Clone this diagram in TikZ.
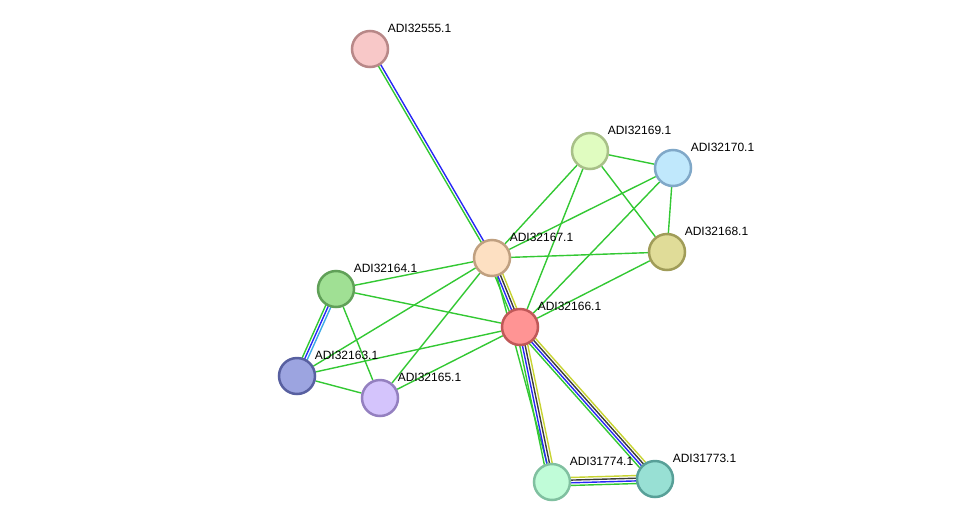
\documentclass[tikz,border=0pt]{standalone}
\usepackage{fontspec}
\setmainfont{Liberation Sans}
\usetikzlibrary{calc, backgrounds}
\definecolor{evgreen}{RGB}{51, 200, 51}
\definecolor{evblue}{RGB}{40, 40, 245}
\definecolor{evblack}{RGB}{60, 60, 60}
\definecolor{evyellow}{RGB}{200, 212, 50}
\definecolor{evcyan}{RGB}{60, 170, 230}

% one parallel strand of an evidence edge: from, to, offset, colour
\newcommand{\strand}[4]{%
  \draw[ev, #4] ($(#1)!#3!90:(#2)$) -- ($(#2)!#3!-90:(#1)$);}
% four-strand edge (green, blue, black, yellow)
\newcommand{\fullev}[2]{%
  \strand{#1}{#2}{-4pt}{evgreen}
  \strand{#1}{#2}{-1.35pt}{evblue}
  \strand{#1}{#2}{1.35pt}{evblack}
  \strand{#1}{#2}{4pt}{evyellow}}

\begin{document}
\begin{tikzpicture}[x=1pt, y=-1pt,
  every node/.style={font=\fontsize{12}{14}\selectfont},
  prot/.style={circle, minimum size=36pt, line width=2.5pt, inner sep=0pt},
  lbl/.style={anchor=base west, inner sep=0pt, text=black, xshift=4pt, yshift=3pt},
  ev/.style={line width=1.4pt}]
  \useasboundingbox (0,0) rectangle (975,528);

  % Proteins
  \node[prot, fill={rgb,255:red,248;green,200;blue,200}, draw={rgb,255:red,184;green,136;blue,136},
        label={[lbl]45:ADI32555.1}] (p32555) at (370,49) {};
  \node[prot, fill={rgb,255:red,224;green,252;blue,192}, draw={rgb,255:red,168;green,192;blue,136},
        label={[lbl]45:ADI32169.1}] (p32169) at (590,151) {};
  \node[prot, fill={rgb,255:red,192;green,232;blue,252}, draw={rgb,255:red,128;green,168;blue,200},
        label={[lbl]45:ADI32170.1}] (p32170) at (673,168) {};
  \node[prot, fill={rgb,255:red,224;green,220;blue,152}, draw={rgb,255:red,160;green,156;blue,88},
        label={[lbl]45:ADI32168.1}] (p32168) at (667,252) {};
  \node[prot, fill={rgb,255:red,253;green,224;blue,194}, draw={rgb,255:red,192;green,160;blue,128},
        label={[lbl]45:ADI32167.1}] (p32167) at (492,258) {};
  \node[prot, fill={rgb,255:red,160;green,224;blue,148}, draw={rgb,255:red,96;green,160;blue,88},
        label={[lbl]45:ADI32164.1}] (p32164) at (336,289) {};
  \node[prot, fill={rgb,255:red,255;green,148;blue,148}, draw={rgb,255:red,192;green,88;blue,88},
        label={[lbl]45:ADI32166.1}] (p32166) at (520,327) {};
  \node[prot, fill={rgb,255:red,156;green,164;blue,224}, draw={rgb,255:red,88;green,96;blue,160},
        label={[lbl]45:ADI32163.1}] (p32163) at (297,376) {};
  \node[prot, fill={rgb,255:red,212;green,196;blue,252}, draw={rgb,255:red,148;green,128;blue,192},
        label={[lbl]45:ADI32165.1}] (p32165) at (380,398) {};
  \node[prot, fill={rgb,255:red,192;green,252;blue,216}, draw={rgb,255:red,128;green,192;blue,160},
        label={[lbl]45:ADI31774.1}] (p31774) at (552,482) {};
  \node[prot, fill={rgb,255:red,152;green,224;blue,212}, draw={rgb,255:red,88;green,160;blue,152},
        label={[lbl]45:ADI31773.1}] (p31773) at (655,479) {};

  \begin{scope}[on background layer]
    % single green edges
    \foreach \a/\b in {p32167/p32169, p32167/p32170, p32167/p32168, p32167/p32164,
                       p32167/p32163, p32167/p32165, p32167/p31774,
                       p32166/p32169, p32166/p32170, p32166/p32168, p32166/p32164,
                       p32166/p32163, p32166/p32165, p32169/p32170, p32169/p32168,
                       p32170/p32168, p32164/p32165, p32163/p32165}
      \draw[ev, evgreen] (\a) -- (\b);

    % multi-evidence edges
    \strand{p32555}{p32167}{-1.35pt}{evgreen}
    \strand{p32555}{p32167}{1.35pt}{evblue}
    \strand{p32164}{p32163}{-2.7pt}{evgreen}
    \strand{p32164}{p32163}{0pt}{evblue}
    \strand{p32164}{p32163}{2.7pt}{evcyan}
    \fullev{p32167}{p32166}
    \fullev{p32166}{p31774}
    \fullev{p32166}{p31773}
    \fullev{p31774}{p31773}
  \end{scope}
\end{tikzpicture}
\end{document}
